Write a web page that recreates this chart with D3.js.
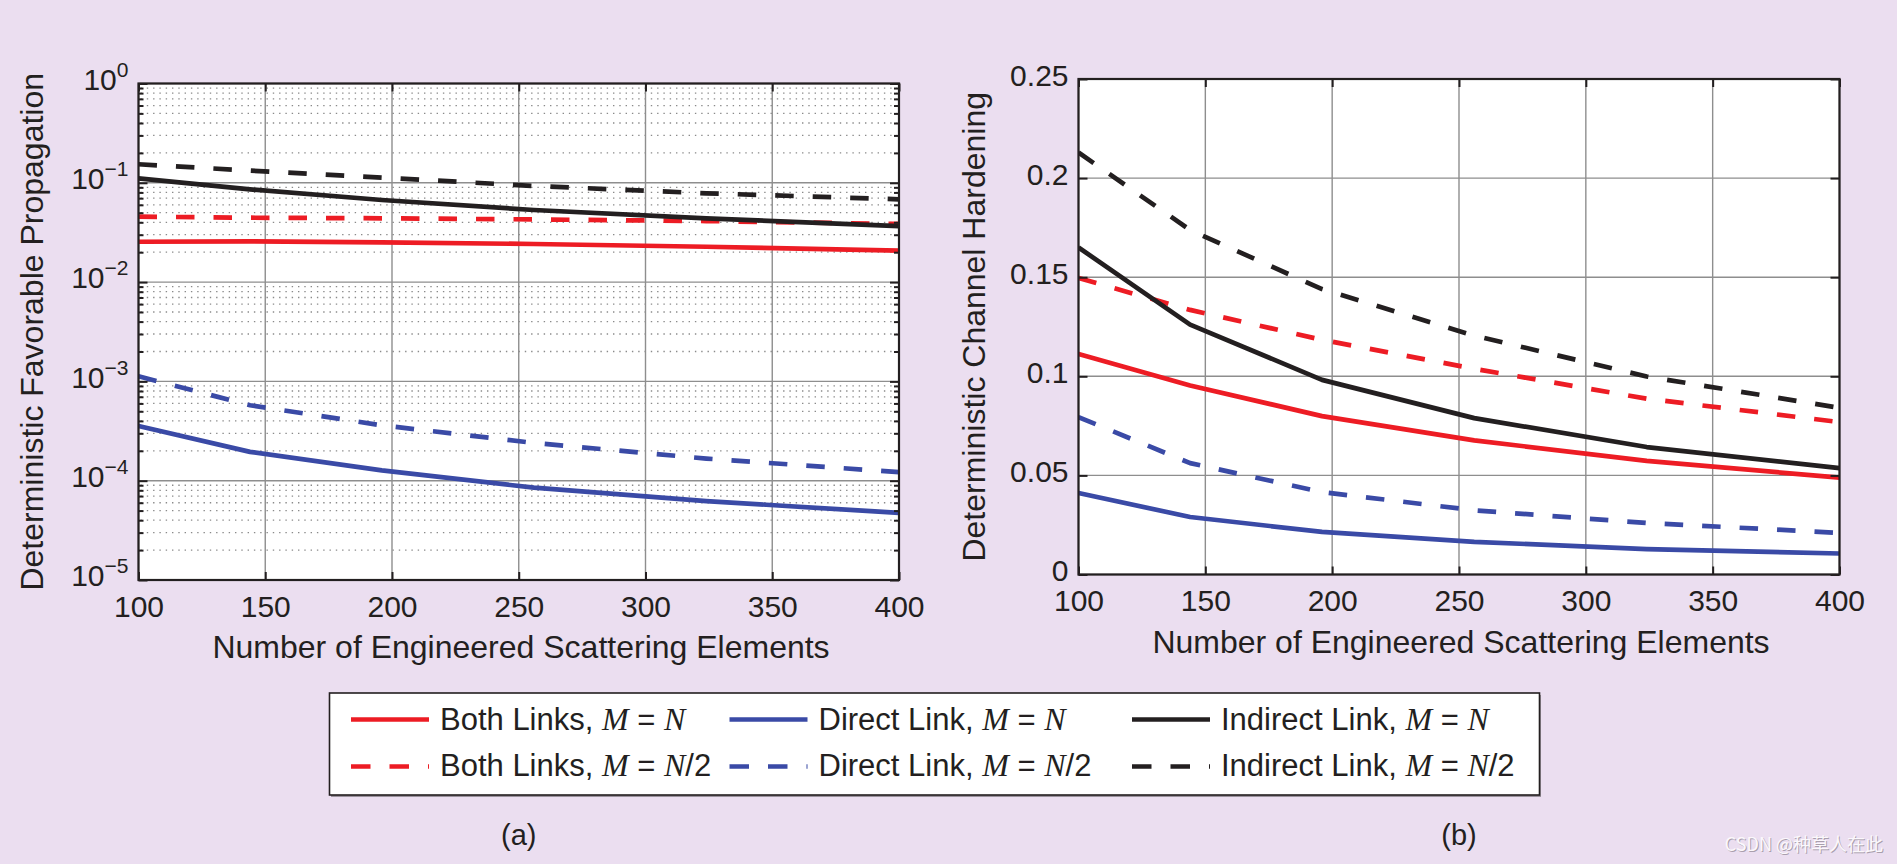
<!DOCTYPE html>
<html><head><meta charset="utf-8">
<script src="https://cdn.jsdelivr.net/npm/d3@7"></script>
<style>
body{margin:0;background:#ebdef0;}
svg{display:block}
text{font-family:"Liberation Sans",Arial,Helvetica,sans-serif;fill:#231f20}
</style>
</head><body>
<svg id="chart" width="1897" height="864"></svg>
<script>
// ---------- data ----------
const elements = [100, 144, 196, 256, 324, 400];
const xTickValues = [100, 150, 200, 250, 300, 350, 400];

// (a) Deterministic favorable propagation (log scale)
const fpBothFull     = [0.0255, 0.0257, 0.0251, 0.0242, 0.0227, 0.0207];
const fpBothHalf     = [0.0456, 0.0445, 0.0439, 0.0428, 0.0412, 0.0385];
const fpDirectFull   = [0.000356, 0.000195, 0.000127, 0.0000850, 0.0000623, 0.0000475];
const fpDirectHalf   = [0.001127, 0.000575, 0.000361, 0.000240, 0.000167, 0.000122];
const fpIndirectFull = [0.111, 0.086, 0.0671, 0.0532, 0.0439, 0.0367];
const fpIndirectHalf = [0.1537, 0.1327, 0.1128, 0.0929, 0.0784, 0.0682];
const fpTickExponents = [0, -1, -2, -3, -4, -5];

// (b) Deterministic channel hardening (linear)
const chBothFull     = [0.1113, 0.0954, 0.0799, 0.0677, 0.0573, 0.0489];
const chBothHalf     = [0.1496, 0.1335, 0.1184, 0.1038, 0.0887, 0.0769];
const chDirectFull   = [0.0411, 0.0290, 0.0215, 0.0165, 0.0128, 0.0106];
const chDirectHalf   = [0.0794, 0.0562, 0.0416, 0.0324, 0.0260, 0.0210];
const chIndirectFull = [0.165, 0.1261, 0.0982, 0.0789, 0.0643, 0.0537];
const chIndirectHalf = [0.2129, 0.1738, 0.1440, 0.1205, 0.0999, 0.0841];
const chTickValues = [0, 0.05, 0.1, 0.15, 0.2, 0.25];
const chTickLabels = ["0", "0.05", "0.1", "0.15", "0.2", "0.25"];

const legendNames = ["Both Links, ", "Direct Link, ", "Indirect Link, "];
const legendRatios = ["", "/2"];

// ---------- styling ----------
const RED = "#ed1c24", BLUE = "#3a4aa6", BLACK = "#231f20";
const GRID = "#8e8e8e";
const DASH = "18.5,19";
const LW = 4.7;

const svg = d3.select("#chart");
svg.append("rect").attr("width", 1897).attr("height", 864).attr("fill", "#ebdef0");

function panel(cfg) {
  const g = svg.append("g");
  const x = d3.scaleLinear().domain([100, 400]).range([cfg.left, cfg.right]);
  const y = cfg.y;
  const [top, bottom] = [cfg.top, cfg.bottom];

  g.append("rect").attr("x", cfg.left).attr("y", top)
    .attr("width", cfg.right - cfg.left).attr("height", bottom - top).attr("fill", "#fff");

  // minor dotted grid
  if (cfg.minor) {
    g.append("g").selectAll("line").data(cfg.minor).join("line")
      .attr("x1", cfg.left + 2).attr("x2", cfg.right - 2)
      .attr("y1", d => y(d)).attr("y2", d => y(d))
      .attr("stroke", "#8a8a8a").attr("stroke-width", 1.3)
      .attr("stroke-dasharray", "1.4,4.9");
  }
  // major grid
  g.append("g").selectAll("line").data(xTickValues).join("line")
    .attr("x1", d => x(d)).attr("x2", d => x(d)).attr("y1", top).attr("y2", bottom)
    .attr("stroke", GRID).attr("stroke-width", 1.4);
  g.append("g").selectAll("line").data(cfg.yTicks).join("line")
    .attr("y1", d => y(d)).attr("y2", d => y(d)).attr("x1", cfg.left).attr("x2", cfg.right)
    .attr("stroke", GRID).attr("stroke-width", 1.4);

  // series
  const clipId = "clip" + cfg.id;
  svg.append("clipPath").attr("id", clipId).append("rect")
    .attr("x", cfg.left).attr("y", top).attr("width", cfg.right - cfg.left).attr("height", bottom - top);
  const line = d3.line().x((d, i) => x(elements[i])).y(d => y(d));
  const lg = g.append("g").attr("clip-path", `url(#${clipId})`);
  cfg.series.forEach(s => {
    lg.append("path").attr("d", line(s.values)).attr("fill", "none")
      .attr("stroke", s.color).attr("stroke-width", LW)
      .attr("stroke-linejoin", "round")
      .attr("stroke-dasharray", s.dashed ? DASH : null);
  });

  // axes (ticks inward on all four sides)
  const styleAxis = sel => {
    sel.select(".domain").remove();
    sel.selectAll(".tick line").attr("stroke", BLACK).attr("stroke-width", 2);
    sel.selectAll("text").attr("font-size", 30).attr("fill", BLACK)
      .attr("font-family", '"Liberation Sans",Arial,sans-serif');
  };
  g.append("g").attr("transform", `translate(0,${bottom})`)
    .call(d3.axisBottom(x).tickValues(xTickValues).tickSizeInner(-8).tickSizeOuter(0).tickPadding(15.4))
    .call(styleAxis);
  g.append("g").attr("transform", `translate(0,${top})`)
    .call(d3.axisTop(x).tickValues(xTickValues).tickSizeInner(-8).tickSizeOuter(0).tickFormat(""))
    .call(styleAxis);
  const leftAx = g.append("g").attr("transform", `translate(${cfg.left},0)`)
    .call(d3.axisLeft(y).tickValues(cfg.yTicks).tickSizeInner(-9).tickSizeOuter(0).tickPadding(10)
      .tickFormat(cfg.yFormat))
    .call(styleAxis);
  leftAx.selectAll("text").attr("dy", cfg.yDy);
  if (cfg.yTspans) leftAx.selectAll("text").each(cfg.yTspans);
  g.append("g").attr("transform", `translate(${cfg.right},0)`)
    .call(d3.axisRight(y).tickValues(cfg.yTicks).tickSizeInner(-9).tickSizeOuter(0).tickFormat(""))
    .call(styleAxis);
  if (cfg.minor) {
    g.append("g").attr("transform", `translate(${cfg.left},0)`)
      .call(d3.axisLeft(y).tickValues(cfg.minor).tickSizeInner(-5).tickSizeOuter(0).tickFormat(""))
      .call(styleAxis);
    g.append("g").attr("transform", `translate(${cfg.right},0)`)
      .call(d3.axisRight(y).tickValues(cfg.minor).tickSizeInner(-5).tickSizeOuter(0).tickFormat(""))
      .call(styleAxis);
  }

  // frame
  g.append("rect").attr("x", cfg.left).attr("y", top)
    .attr("width", cfg.right - cfg.left).attr("height", bottom - top)
    .attr("fill", "none").attr("stroke", BLACK).attr("stroke-width", 2.2);

  // axis titles
  g.append("text").attr("x", cfg.xLabelX).attr("y", cfg.xLabelY)
    .attr("text-anchor", "middle").attr("font-size", 32)
    .text("Number of Engineered Scattering Elements");
  g.append("text").attr("transform", `translate(${cfg.yLabelX},${(top + bottom) / 2}) rotate(-90)`)
    .attr("text-anchor", "middle").attr("font-size", 32).text(cfg.yLabel);
  g.append("text").attr("x", (cfg.left + cfg.right) / 2).attr("y", 845)
    .attr("text-anchor", "middle").attr("font-size", 29).text(cfg.tag);
}

// panel (a)
const yA = d3.scaleLog().domain([1e-5, 1]).range([580, 83.5]);
const decades = fpTickExponents.map(e => Math.pow(10, e));
const minorA = [];
fpTickExponents.slice(1).forEach(e => { for (let k = 2; k <= 9; k++) minorA.push(k * Math.pow(10, e)); });
panel({
  id: "a", left: 138.5, right: 899, top: 83.5, bottom: 580, y: yA,
  yTicks: decades, minor: minorA, yFormat: () => "", yDy: "0.19em",
  yTspans: function (d) {
    const t = d3.select(this);
    const e = Math.round(Math.log10(d));
    t.append("tspan").text("10");
    t.append("tspan").attr("font-size", 21).attr("dy", -13)
      .text(e === 0 ? "0" : "\u2212" + Math.abs(e));
  },
  series: [
    { values: fpBothFull, color: RED }, { values: fpBothHalf, color: RED, dashed: true },
    { values: fpDirectFull, color: BLUE }, { values: fpDirectHalf, color: BLUE, dashed: true },
    { values: fpIndirectFull, color: BLACK }, { values: fpIndirectHalf, color: BLACK, dashed: true }
  ],
  xLabelX: 521, xLabelY: 657.7, yLabelX: 43, yLabel: "Deterministic Favorable Propagation", tag: "(a)"
});

// panel (b)
const yB = d3.scaleLinear().domain([0, 0.25]).range([574.5, 79]);
panel({
  id: "b", left: 1078.5, right: 1839.5, top: 79, bottom: 574.5, y: yB,
  yTicks: chTickValues, yFormat: (d, i) => chTickLabels[i], yDy: "0.21em",
  series: [
    { values: chBothFull, color: RED }, { values: chBothHalf, color: RED, dashed: true },
    { values: chDirectFull, color: BLUE }, { values: chDirectHalf, color: BLUE, dashed: true },
    { values: chIndirectFull, color: BLACK }, { values: chIndirectHalf, color: BLACK, dashed: true }
  ],
  xLabelX: 1461, xLabelY: 653, yLabelX: 985, yLabel: "Deterministic Channel Hardening", tag: "(b)"
});

// ---------- legend ----------
const lgd = svg.append("g");
lgd.append("rect").attr("x", 331).attr("y", 695).attr("width", 1210).attr("height", 102).attr("fill", "#9a929c");
lgd.append("rect").attr("x", 329.5).attr("y", 693).attr("width", 1210).attr("height", 102)
  .attr("fill", "#fff").attr("stroke", BLACK).attr("stroke-width", 1.6);
const colX = [351, 729.5, 1132];
const colorsByCol = [RED, BLUE, BLACK];
const rowY = [729.5, 776];
const lineOff = [-10, -9.5];
legendNames.forEach((name, c) => {
  legendRatios.forEach((ratio, r) => {
    lgd.append("line").attr("x1", colX[c]).attr("x2", colX[c] + 78)
      .attr("y1", rowY[r] + lineOff[r]).attr("y2", rowY[r] + lineOff[r])
      .attr("stroke", colorsByCol[c]).attr("stroke-width", LW)
      .attr("stroke-dasharray", r === 1 ? "19.5,19" : null);
    const t = lgd.append("text").attr("x", colX[c] + 89).attr("y", rowY[r]).attr("font-size", 31);
    t.append("tspan").text(name);
    t.append("tspan").attr("font-family", '"Liberation Serif","Times New Roman",serif')
      .attr("font-style", "italic").attr("font-size", 32).text("M");
    t.append("tspan").attr("font-size", 31).text(" = ");
    t.append("tspan").attr("font-family", '"Liberation Serif","Times New Roman",serif')
      .attr("font-style", "italic").attr("font-size", 32).text("N");
    if (ratio) t.append("tspan").attr("font-size", 31).text(ratio);
  });
});

// watermark
svg.append("text").attr("x", 1883).attr("y", 851).attr("text-anchor", "end")
  .attr("font-size", 18).style("font-family", '"Noto Sans CJK SC","Noto Sans",sans-serif')
  .style("fill", "#a99fad").attr("dx", 1).attr("dy", 1).text("CSDN @种草人在此");
svg.append("text").attr("x", 1883).attr("y", 851).attr("text-anchor", "end")
  .attr("font-size", 18).style("font-family", '"Noto Sans CJK SC","Noto Sans",sans-serif')
  .style("fill", "#fbf8fc").text("CSDN @种草人在此");
</script>
</body></html>
